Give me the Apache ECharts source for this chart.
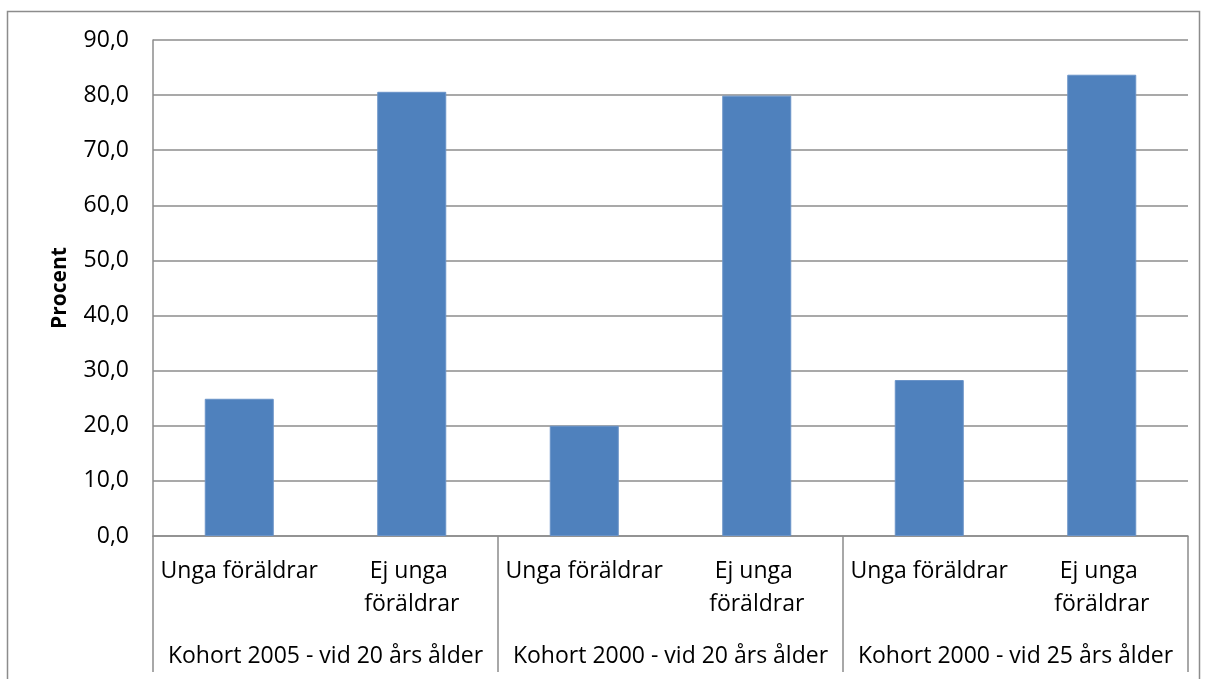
<!DOCTYPE html>
<html>
<head>
<meta charset="utf-8">
<script src="https://cdn.jsdelivr.net/npm/echarts@6/dist/echarts.min.js"></script>
<style>
  html, body { margin: 0; padding: 0; background: #fff; }
  #chart { width: 1208px; height: 679px; }
</style>
</head>
<body>
<div id="chart"></div>
<script>
// data
var categories = ['Unga föräldrar', 'Ej unga föräldrar', 'Unga föräldrar', 'Ej unga föräldrar', 'Unga föräldrar', 'Ej unga föräldrar'];
var groups = ['Kohort 2005 - vid 20 års ålder', 'Kohort 2000 - vid 20 års ålder', 'Kohort 2000 - vid 25 års ålder'];
var procent = [24.9, 80.6, 20.0, 79.9, 28.3, 83.7];
var yTicks = [0, 10, 20, 30, 40, 50, 60, 70, 80, 90];

var font = 'Open Sans';
var gray = '#8c8c8c';

var chart = echarts.init(document.getElementById('chart'));

var option = {
  animation: false,
  textStyle: { fontFamily: font },
  graphic: [{
    type: 'rect',
    shape: { x: 7.5, y: 11.5, width: 1192, height: 700 },
    style: { fill: 'none', stroke: gray, lineWidth: 1.5 },
    silent: true
  }],
  grid: { left: 153, right: 20, top: 40, bottom: 143 },
  xAxis: [
    {
      type: 'category',
      data: categories,
      axisLine: { show: true, lineStyle: { color: gray, width: 1.5 } },
      axisTick: { show: false },
      axisLabel: {
        color: '#000', fontFamily: font, fontSize: 23, margin: 19, lineHeight: 33,
        interval: 0, width: 180, overflow: 'break'
      }
    },
    {
      type: 'category',
      data: groups,
      position: 'bottom',
      axisLine: { show: false },
      axisTick: { show: true, length: 136, lineStyle: { color: gray, width: 1.5 } },
      axisLabel: { color: '#000', fontFamily: font, fontSize: 23, margin: 109, interval: 0 }
    }
  ],
  yAxis: {
    type: 'value',
    min: yTicks[0],
    max: yTicks[yTicks.length - 1],
    interval: 10,
    name: 'Procent',
    nameLocation: 'middle',
    nameGap: 82,
    nameTextStyle: { color: '#000', fontFamily: font, fontSize: 21, fontWeight: 'bold' },
    axisLine: { show: true, lineStyle: { color: gray, width: 1.5 } },
    axisTick: { show: false },
    axisLabel: {
      color: '#000', fontFamily: font, fontSize: 23, margin: 24,
      formatter: function (v) { return v.toFixed(1).replace('.', ','); }
    },
    splitLine: { lineStyle: { color: gray, width: 1.5 } }
  },
  series: [{
    type: 'bar',
    xAxisIndex: 0,
    data: procent,
    barWidth: '40%',
    itemStyle: { color: '#4f81bd', borderColor: '#6a93c8', borderWidth: 1 }
  }]
};

chart.setOption(option);
</script>
</body>
</html>
